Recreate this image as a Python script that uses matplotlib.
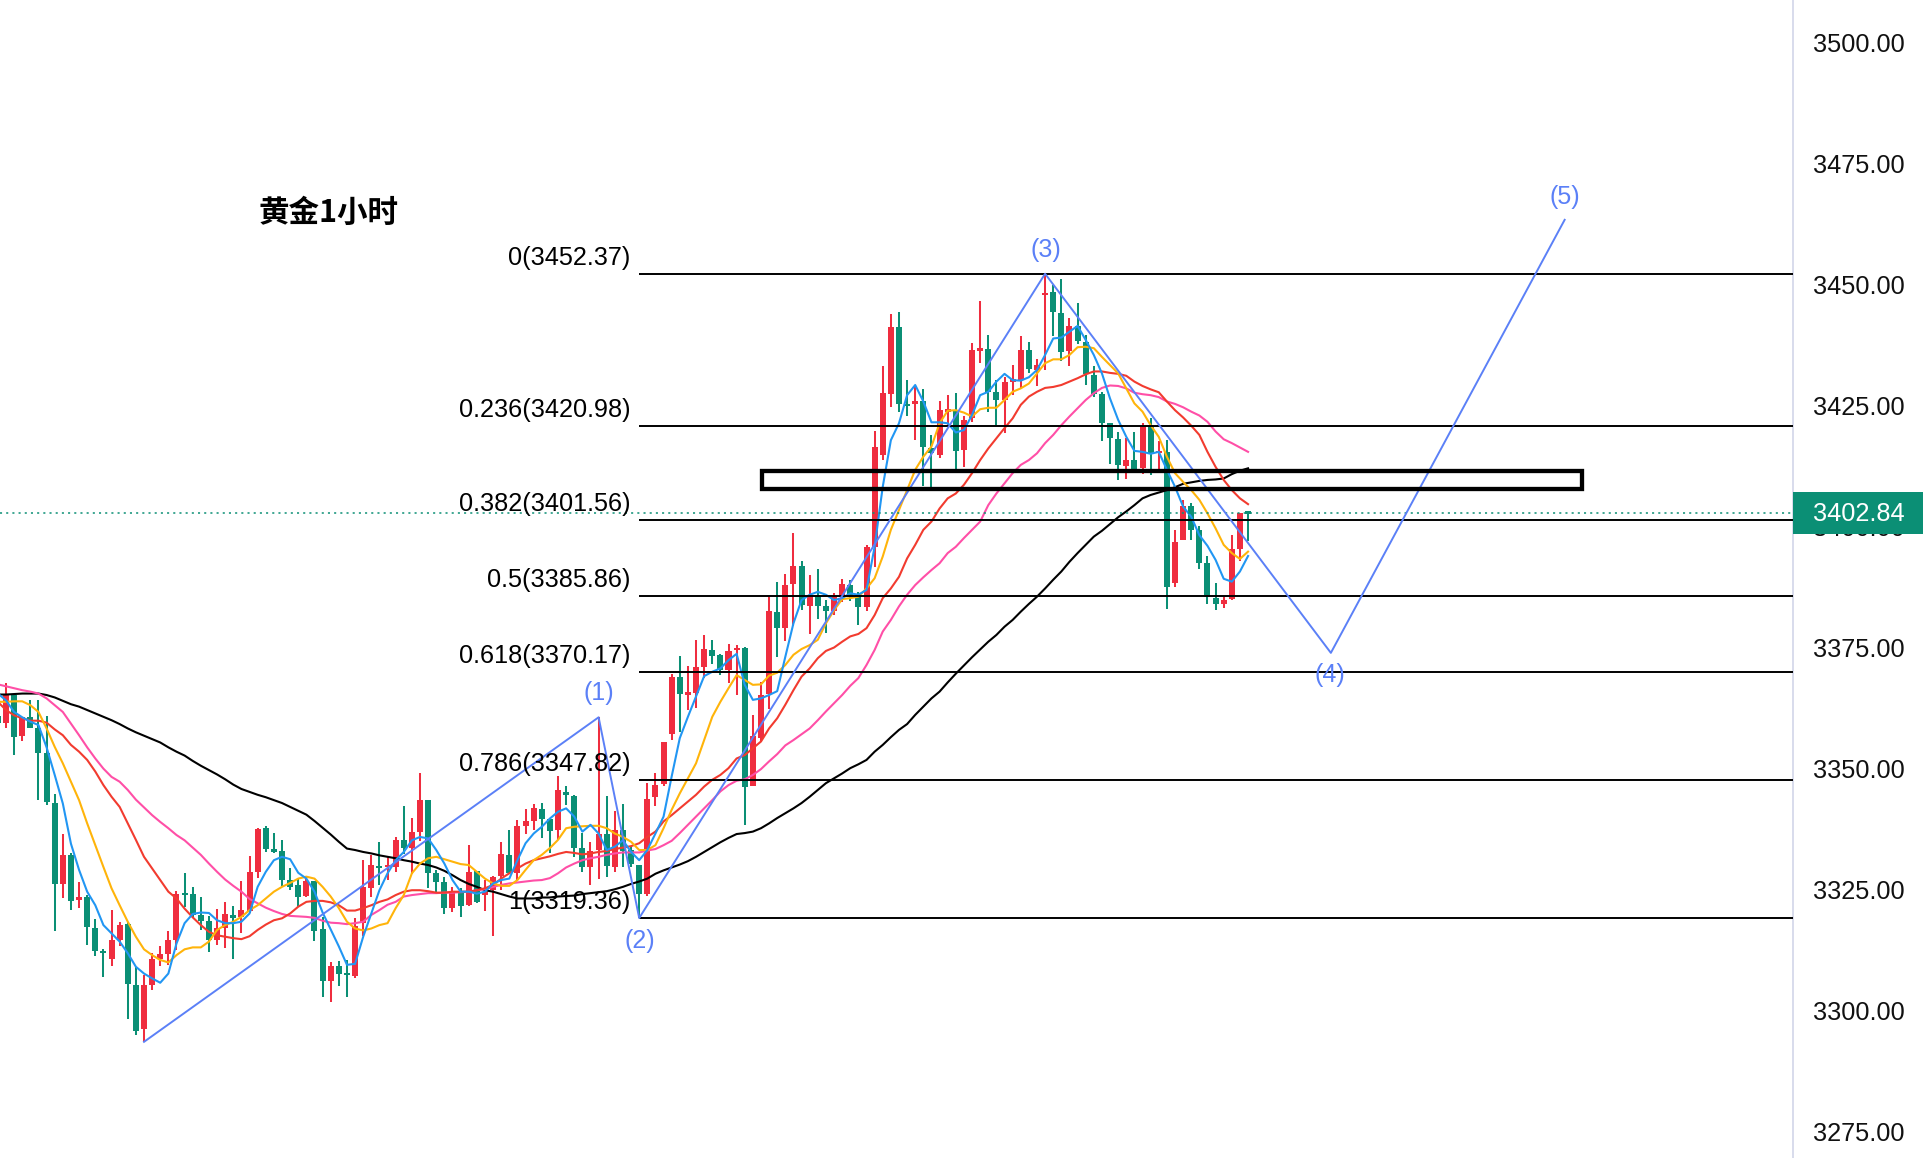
"""
Gold 1h chart: candles, five moving averages, fib levels and the wave count.
"""
import numpy as np
import matplotlib
matplotlib.use('Agg')
import matplotlib.pyplot as plt
from matplotlib.patches import Rectangle
from matplotlib.transforms import ScaledTranslation

plt.rcParams['font.family'] = ['Liberation Sans', 'DejaVu Sans']

# candles, first one is cut by the left edge
opens = [3361.1,3359.7,3365.4,3356.9,3360.8,3358.5,3353.5,3343.2,3326.3,3332.4,
         3323.1,3323.8,3317.4,3312.6,3310.8,3314.9,3318.2,3305.5,3296.4,3305.5,
         3310.9,3311.9,3314.8,3324.4,3324.3,3320.0,3318.7,3314.8,3317.4,3320.0,
         3319.5,3320.9,3328.8,3338.0,3333.6,3333.2,3327.2,3326.2,3323.9,3327.0,
         3317.1,3306.4,3309.5,3307.7,3307.4,3318.3,3325.6,3330.2,3329.8,3329.9,
         3335.4,3333.9,3337.2,3343.7,3328.7,3326.7,3321.5,3324.6,3322.0,3329.0,
         3324.2,3325.1,3328.0,3332.4,3328.6,3338.4,3339.4,3341.8,3339.9,3337.5,
         3345.4,3344.5,3333.9,3329.9,3333.4,3336.8,3329.8,3337.6,3333.4,3330.3,
         3324.4,3344.3,3347.0,3357.4,3369.2,3365.5,3365.9,3371.1,3374.7,3373.7,
         3370.6,3374.7,3375.1,3346.6,3356.5,3365.6,3382.5,3379.2,3388.3,3392.0,
         3383.8,3385.8,3383.8,3382.8,3385.7,3388.1,3386.2,3383.6,3395.9,3415.0,
         3427.5,3441.4,3425.5,3425.5,3426.0,3416.3,3415.0,3423.9,3424.2,3416.0,
         3422.5,3436.5,3436.8,3428.0,3426.3,3430.1,3430.4,3436.6,3432.5,3448.0,
         3448.5,3444.2,3436.4,3441.6,3438.2,3431.5,3427.5,3421.5,3418.3,3412.7,
         3413.9,3412.2,3421.0,3415.3,3415.6,3388.5,3397.3,3404.4,3399.5,3392.7,
         3385.5,3384.2,3385.2,3395.5,3403.0]
closes = [3359.6,3365.4,3356.8,3360.8,3358.5,3353.5,3343.4,3326.3,3332.3,3322.9,
          3323.6,3317.6,3312.6,3312.1,3314.9,3318.0,3305.7,3296.1,3305.5,3310.9,
          3311.9,3314.8,3324.4,3324.1,3320.0,3318.8,3314.8,3317.4,3320.2,3319.4,
          3321.0,3328.8,3337.7,3333.6,3333.0,3327.2,3325.8,3323.8,3327.1,3316.7,
          3306.4,3309.5,3307.8,3307.5,3317.7,3325.7,3330.3,3329.6,3329.9,3335.4,
          3333.9,3337.2,3343.7,3328.7,3326.8,3321.5,3324.9,3321.8,3328.9,3322.7,
          3324.4,3327.9,3332.5,3328.6,3338.3,3339.4,3342.0,3339.9,3337.3,3345.8,
          3344.7,3333.9,3329.9,3333.2,3336.8,3330.1,3337.6,3333.2,3330.5,3324.4,
          3343.9,3346.8,3355.6,3369.2,3365.6,3365.8,3371.1,3374.9,3373.5,3370.6,
          3374.5,3375.2,3346.5,3356.9,3365.4,3382.8,3379.2,3388.1,3392.0,3384.0,
          3386.1,3383.8,3382.8,3385.7,3388.3,3385.7,3383.6,3396.0,3416.5,3427.7,
          3441.4,3425.5,3425.1,3426.0,3416.5,3415.3,3424.2,3424.2,3415.8,3422.2,
          3436.6,3436.8,3428.0,3426.3,3430.1,3430.4,3436.6,3432.6,3433.5,3448.4,
          3444.4,3436.3,3441.6,3438.5,3431.6,3427.5,3421.6,3418.4,3412.8,3413.9,
          3412.0,3421.0,3415.4,3415.6,3387.6,3396.9,3404.4,3399.5,3392.7,3385.6,
          3384.2,3385.0,3395.5,3402.9,3402.84]
highs = [3361.3,3367.8,3365.7,3360.9,3364.3,3364.3,3361.0,3344.9,3336.8,3332.7,
         3326.7,3324.1,3319.1,3312.9,3321.1,3318.5,3318.6,3309.3,3307.6,3312.1,
         3313.6,3316.7,3324.9,3328.6,3325.7,3323.6,3319.8,3321.3,3322.6,3321.8,
         3327.0,3332.1,3337.9,3338.3,3337.0,3335.4,3329.6,3327.5,3327.9,3327.0,
         3319.6,3310.3,3310.5,3310.7,3319.3,3331.3,3332.4,3335.0,3331.9,3336.1,
         3342.5,3340.1,3349.2,3343.8,3329.3,3327.8,3325.8,3325.5,3334.4,3329.1,
         3327.2,3328.0,3335.1,3337.5,3339.6,3341.9,3343.0,3343.2,3339.9,3348.7,
         3346.7,3344.7,3336.9,3335.1,3360.8,3344.5,3341.4,3342.9,3334.1,3330.3,
         3347.2,3349.2,3355.6,3369.7,3373.5,3371.4,3376.8,3377.8,3376.8,3373.8,
         3375.9,3375.7,3375.4,3361.3,3368.0,3385.7,3388.7,3390.4,3398.9,3393.1,
         3390.2,3391.4,3385.0,3386.4,3389.4,3389.1,3386.6,3396.4,3419.9,3433.3,
         3444.0,3444.5,3430.4,3429.1,3428.5,3419.1,3426.1,3427.3,3427.7,3422.9,
         3438.0,3446.7,3439.7,3430.4,3431.0,3433.5,3439.5,3438.2,3434.7,3452.37,
         3450.0,3451.3,3443.2,3446.3,3439.7,3433.3,3428.0,3421.5,3419.8,3418.5,
         3419.6,3421.5,3422.5,3417.8,3418.0,3399.5,3405.7,3405.0,3400.3,3394.1,
         3388.6,3385.7,3398.4,3402.9,3403.1]
lows = [3359.4,3358.5,3353.0,3355.9,3358.5,3343.7,3342.7,3316.7,3323.5,3321.1,
        3321.5,3313.8,3311.6,3307.2,3309.5,3313.6,3298.5,3295.2,3293.8,3304.4,
        3309.5,3309.6,3312.7,3321.6,3319.6,3316.9,3312.4,3313.8,3313.2,3310.9,
        3316.2,3320.3,3327.7,3333.0,3332.8,3326.0,3325.1,3321.6,3323.6,3314.6,
        3303.1,3302.1,3305.4,3303.1,3307.0,3315.7,3323.8,3326.2,3327.2,3328.8,
        3332.6,3328.4,3335.2,3325.6,3324.3,3320.2,3320.7,3319.6,3321.8,3322.4,
        3320.9,3315.7,3325.1,3328.6,3327.2,3336.8,3337.6,3335.8,3332.7,3335.4,
        3342.7,3332.0,3328.9,3326.2,3327.5,3327.9,3328.9,3329.8,3329.9,3319.4,
        3324.0,3342.5,3346.7,3356.1,3357.8,3362.3,3362.8,3369.0,3371.8,3369.5,
        3367.8,3365.4,3338.6,3346.6,3355.6,3362.5,3373.3,3376.6,3379.7,3383.0,
        3378.0,3381.1,3378.3,3381.9,3384.7,3384.9,3379.9,3382.8,3391.9,3413.9,
        3424.9,3423.8,3422.9,3418.0,3408.6,3408.4,3414.4,3421.1,3411.9,3412.5,
        3421.8,3434.0,3423.9,3421.1,3419.4,3427.3,3428.7,3431.8,3429.2,3432.4,
        3439.5,3434.4,3433.3,3437.9,3429.3,3427.0,3417.8,3413.1,3409.7,3410.0,
        3411.9,3411.0,3410.8,3411.9,3383.2,3387.6,3397.3,3397.5,3391.4,3384.2,
        3383.0,3383.4,3385.0,3393.1,3397.1]

# moving averages, one value per candle
ma_blue = [3365.7,3364.3,3361.9,3360.8,3359.9,3359.2,3354.6,3348.9,3343.0,3334.7,
           3329.3,3324.8,3322.0,3317.9,3316.2,3314.5,3312.1,3309.3,3307.9,3306.9,
           3306.0,3307.9,3314.1,3318.3,3320.2,3320.5,3320.4,3318.9,3318.3,3318.3,
           3318.6,3320.3,3325.8,3328.9,3331.3,3332.0,3331.5,3328.7,3327.5,3324.8,
           3320.5,3317.0,3313.5,3309.7,3309.9,3315.5,3320.3,3325.1,3328.6,3331.3,
           3333.0,3335.4,3336.1,3335.8,3333.4,3330.6,3327.2,3324.8,3324.8,3324.4,
           3324.8,3326.5,3327.2,3327.5,3331.3,3334.8,3336.8,3338.2,3339.9,3341.3,
           3342.0,3340.3,3337.2,3338.6,3336.8,3333.4,3334.1,3335.4,3333.0,3331.3,
           3333.4,3336.8,3340.3,3348.6,3356.5,3360.9,3365.1,3369.3,3370.2,3370.9,
           3372.6,3373.9,3367.5,3364.4,3364.7,3365.4,3366.2,3373.3,3380.2,3385.0,
           3386.1,3386.7,3386.1,3385.0,3385.4,3386.4,3386.1,3387.1,3396.0,3408.4,
           3418.0,3421.5,3427.3,3429.4,3426.0,3421.7,3421.7,3421.5,3419.6,3420.1,
           3423.2,3427.3,3428.0,3430.1,3431.7,3430.4,3430.3,3431.0,3432.5,3435.6,
           3439.0,3439.2,3440.4,3441.6,3438.7,3435.6,3431.8,3426.6,3422.2,3418.7,
           3415.8,3415.6,3415.2,3415.6,3411.9,3408.4,3404.3,3402.2,3398.4,3396.2,
           3393.3,3389.4,3388.8,3390.9,3394.1]
ma_orange = [3364.0,3364.0,3364.1,3364.1,3363.3,3361.9,3358.5,3354.7,3351.3,3347.5,
             3343.7,3338.9,3334.4,3329.9,3325.5,3322.0,3318.6,3315.5,3312.9,3311.7,
             3310.7,3310.2,3311.7,3312.9,3313.3,3313.3,3314.5,3316.9,3317.9,3318.6,
             3319.6,3321.0,3322.0,3323.4,3324.8,3325.8,3326.6,3327.5,3327.9,3327.5,
             3325.8,3323.8,3321.4,3318.6,3317.2,3316.8,3317.2,3317.9,3318.3,3321.4,
             3324.1,3328.6,3330.6,3331.7,3332.0,3331.5,3331.0,3330.5,3330.3,3328.9,
             3327.5,3326.5,3326.0,3326.0,3327.2,3329.3,3331.3,3332.4,3333.8,3335.5,
             3337.9,3338.2,3338.3,3338.4,3338.4,3337.9,3336.8,3336.1,3335.1,3333.4,
             3333.4,3334.4,3337.9,3341.7,3345.1,3348.2,3351.3,3356.1,3360.9,3364.0,
             3366.8,3369.5,3368.5,3367.5,3367.6,3369.4,3370.0,3371.6,3373.7,3374.9,
             3375.7,3376.8,3380.2,3382.9,3385.2,3385.4,3385.7,3387.4,3389.5,3394.0,
             3399.5,3403.6,3407.7,3411.9,3414.6,3416.7,3421.5,3424.1,3424.2,3423.7,
             3422.9,3424.4,3424.7,3424.7,3426.3,3428.0,3428.7,3429.7,3431.8,3433.9,
             3434.7,3434.7,3435.6,3437.2,3437.3,3437.0,3435.2,3433.5,3431.8,3428.7,
             3425.6,3423.9,3421.1,3418.7,3414.6,3411.2,3409.4,3407.7,3405.7,3402.9,
             3399.8,3396.4,3394.7,3393.5,3395.0]
ma_red = [3364.0,3362.3,3361.2,3360.6,3360.1,3360.1,3359.7,3358.3,3357.1,3355.1,
          3353.7,3352.0,3349.6,3346.8,3344.4,3342.3,3338.9,3335.5,3332.0,3329.6,
          3327.2,3324.8,3323.4,3321.3,3319.5,3317.9,3316.5,3315.8,3315.5,3315.2,
          3315.0,3315.6,3316.9,3318.0,3318.9,3319.3,3320.3,3321.7,3322.7,3322.9,
          3322.9,3322.6,3322.0,3320.9,3320.9,3321.4,3322.0,3322.7,3323.2,3324.1,
          3324.8,3325.1,3325.1,3324.9,3324.6,3324.6,3324.8,3324.8,3324.8,3325.1,
          3325.5,3326.2,3327.5,3328.6,3329.6,3330.6,3331.3,3331.7,3332.1,3332.6,
          3333.0,3332.8,3332.5,3332.7,3333.0,3333.2,3333.6,3333.9,3334.2,3334.8,
          3336.1,3337.2,3339.3,3340.6,3342.0,3343.4,3344.8,3346.5,3347.9,3348.9,
          3350.3,3352.3,3353.0,3354.4,3355.8,3358.5,3360.6,3363.4,3366.4,3369.2,
          3370.9,3373.0,3374.5,3375.2,3376.4,3377.5,3378.0,3379.2,3381.9,3385.4,
          3387.4,3389.8,3393.6,3396.4,3399.5,3401.2,3403.9,3406.0,3407.0,3408.8,
          3411.2,3413.9,3416.3,3418.4,3420.5,3422.5,3425.3,3427.0,3428.0,3428.8,
          3429.0,3429.4,3430.1,3430.8,3431.6,3432.2,3432.2,3431.9,3431.7,3431.3,
          3430.1,3429.2,3428.5,3427.9,3426.0,3424.2,3422.7,3421.0,3419.1,3415.6,
          3412.5,3409.8,3407.7,3406.0,3404.8]
ma_pink = [3367.6,3367.2,3366.8,3366.4,3366.1,3365.7,3364.7,3363.3,3361.9,3359.5,
           3357.1,3354.6,3352.3,3350.2,3348.5,3347.5,3345.8,3343.8,3342.2,3340.6,
           3339.2,3337.9,3336.5,3335.4,3333.9,3332.4,3330.6,3328.9,3327.3,3326.0,
           3324.8,3323.3,3322.4,3321.5,3320.8,3320.2,3319.8,3319.7,3319.6,3319.4,
           3318.8,3318.4,3318.3,3318.1,3318.3,3318.6,3320.0,3321.0,3322.1,3322.7,
           3323.8,3324.1,3324.3,3324.5,3324.5,3324.6,3324.6,3324.7,3324.8,3325.1,
           3325.3,3325.8,3326.2,3326.5,3326.7,3326.9,3327.1,3327.2,3327.6,3328.6,
           3329.8,3330.6,3331.3,3331.7,3332.0,3332.4,3332.7,3332.9,3332.9,3332.9,
           3333.3,3333.6,3334.4,3335.3,3336.9,3338.6,3340.3,3342.0,3343.7,3345.5,
           3346.8,3347.7,3348.0,3348.9,3350.1,3351.7,3353.2,3355.0,3356.1,3357.3,
           3358.5,3360.2,3362.0,3363.7,3365.4,3367.3,3368.9,3371.6,3374.7,3378.5,
           3380.9,3383.7,3386.1,3388.1,3389.7,3391.2,3392.6,3394.7,3396.0,3397.8,
           3399.5,3401.2,3404.6,3407.0,3409.1,3411.2,3412.9,3413.9,3415.3,3417.4,
           3419.1,3421.1,3422.9,3424.6,3426.3,3427.7,3428.8,3429.3,3429.2,3428.7,
           3427.8,3427.5,3427.3,3426.9,3426.0,3425.5,3424.8,3423.9,3423.1,3421.8,
           3419.8,3418.2,3417.4,3416.5,3415.6]
ma_black = [3365.5,3365.5,3365.6,3365.7,3365.7,3365.7,3365.4,3364.9,3364.2,3363.5,
            3363.0,3362.3,3361.6,3360.9,3360.2,3359.4,3358.5,3357.7,3357.0,3356.3,
            3355.6,3354.6,3353.7,3352.9,3351.8,3350.8,3349.9,3349.0,3348.0,3346.9,
            3346.0,3345.4,3344.8,3344.3,3343.7,3343.1,3342.3,3341.5,3340.7,3339.4,
            3338.0,3336.6,3335.1,3333.7,3333.4,3333.0,3332.7,3332.3,3332.0,3331.7,
            3331.3,3331.0,3330.6,3330.3,3329.8,3329.1,3328.2,3327.2,3326.4,3325.8,
            3325.1,3324.8,3324.3,3323.8,3323.4,3323.4,3323.4,3323.6,3323.6,3323.8,
            3323.9,3324.0,3324.3,3324.5,3324.7,3324.9,3325.3,3325.8,3326.4,3326.9,
            3327.5,3328.5,3329.2,3329.8,3330.4,3331.1,3332.0,3333.0,3334.0,3335.0,
            3335.9,3336.7,3336.9,3337.2,3337.9,3338.9,3340.0,3341.0,3342.0,3343.1,
            3344.4,3345.8,3347.2,3348.2,3349.2,3350.3,3351.1,3352.0,3353.7,3355.1,
            3356.7,3358.2,3359.4,3361.3,3363.0,3364.7,3366.1,3368.0,3369.8,3371.5,
            3373.2,3374.8,3376.4,3377.8,3379.5,3380.9,3382.6,3384.2,3385.7,3387.4,
            3389.2,3390.9,3392.9,3394.7,3396.4,3398.1,3399.3,3400.7,3402.1,3403.3,
            3404.6,3406.0,3406.7,3407.2,3407.7,3408.3,3409.0,3409.3,3409.6,3409.8,
            3409.9,3410.1,3411.0,3411.7,3412.2]

# fib retracement
fib_ratios = ['0', '0.236', '0.382', '0.5', '0.618', '0.786', '1']
fib_prices = [3452.37, 3420.98, 3401.56, 3385.86, 3370.17, 3347.82, 3319.36]
fib_start = 78

# wave count, position in candles
wave_x = [17, 73, 78, 128, 163.2, 192]
wave_y = [3293.8, 3360.8, 3319.36, 3452.37, 3374.1, 3463.5]
wave_labels = ['(1)', '(2)', '(3)', '(4)', '(5)']
wave_offsets = [(0, 24), (1, -23), (1, 24), (-1, -22), (0, 23)]

# resistance box
box_x = [93.1, 194.1]
box_y = [3408.0, 3411.6]

last_price = 3402.84
tick_prices = [3275, 3300, 3325, 3350, 3375, 3400, 3425, 3450, 3475, 3500]

RED = '#EF2D3F'
GREEN = '#0B8F75'
WAVE = '#5B80F7'
W, H = 1924, 1158
PANE_W = 1793

fig = plt.figure(figsize=(W/100, H/100), dpi=100, facecolor='white')
ax = fig.add_axes([0, 0, PANE_W/W, 1])
ax.set_xlim(-0.739, (PANE_W - 6)/8.118)
ax.set_ylim(3269.82, 3508.88)

# candles
idx = np.arange(len(opens)) - 1
o, c, hi, lo = map(np.array, (opens, closes, highs, lows))
cols = np.where(c >= o, RED, GREEN)
ax.vlines(idx, lo, hi, colors=cols, lw=1.45, zorder=2)
ax.bar(idx, np.abs(c - o).clip(0.45), bottom=np.minimum(o, c), width=0.74,
       color=cols, linewidth=0, zorder=2.1)

# moving averages
for vals, col in [(ma_black, '#000000'), (ma_pink, '#FF4FA7'), (ma_red, '#F23B2F'),
                  (ma_orange, '#FFB40A'), (ma_blue, '#2196F3')]:
    ax.plot(idx, vals, color=col, lw=1.5, zorder=3, solid_joinstyle='round')

# last price
ax.axhline(last_price + 0.15, color=GREEN, lw=1.1, ls=(0, (1.35, 2.7)), zorder=3)

# fib levels
ax.hlines(fib_prices, fib_start, ax.get_xlim()[1], colors='k', lw=1.4, zorder=4)
for ratio, price in zip(fib_ratios, fib_prices):
    ax.annotate(f'{ratio}({price:.2f})', xy=(fib_start, price), xytext=(-9, 16),
                textcoords='offset pixels', ha='right', va='center',
                fontsize=18.2, color='k', zorder=7)

# wave lines and labels
ax.plot(wave_x, wave_y, color=WAVE, lw=1.4, zorder=5)
for x, y, txt, off in zip(wave_x[1:], wave_y[1:], wave_labels, wave_offsets):
    ax.annotate(txt, xy=(x, y), xytext=off, textcoords='offset pixels',
                ha='center', va='center', fontsize=18, color=WAVE, zorder=7)

# box around the resistance zone
ax.add_patch(Rectangle((box_x[0], box_y[0]), box_x[1]-box_x[0], box_y[1]-box_y[0],
                       fill=False, ec='k', lw=3.1, joinstyle='miter', zorder=6))

# price scale on the right
ax.yaxis.tick_right()
ax.set_yticks(tick_prices)
ax.set_yticklabels([f'{p:.2f}' for p in tick_prices], fontsize=18.3, color='#111111')
ax.tick_params(axis='y', length=0, pad=14.4)
nudge = ScaledTranslation(0, 1/100, fig.dpi_scale_trans)
for lab in ax.get_yticklabels():
    lab.set_transform(lab.get_transform() + nudge)
ax.set_xticks([])
for side in ('left', 'top', 'bottom'):
    ax.spines[side].set_visible(False)
ax.spines['right'].set_color('#D8DCEC')
ax.spines['right'].set_linewidth(1.4)

# last price tag sits on top of the scale
tag = fig.add_axes([PANE_W/W, 0, (W-PANE_W)/W, 1], facecolor='none')
tag.set_xlim(0, 1)
tag.set_ylim(ax.get_ylim())
tag.axis('off')
tag.axhspan(3398.6, 3407.3, color=GREEN, lw=0)
tag.text(0.5, last_price, f'{last_price:.2f}', color='white', fontsize=18.3,
         ha='center', va='center')

fig.text(259/W, 1 - 213/H, '黄金1小时', fontsize=22, fontweight='bold', va='center',
         family=['Noto Sans CJK SC', 'DejaVu Sans'])

fig.savefig('out.png', dpi=100)
plt.close(fig)
